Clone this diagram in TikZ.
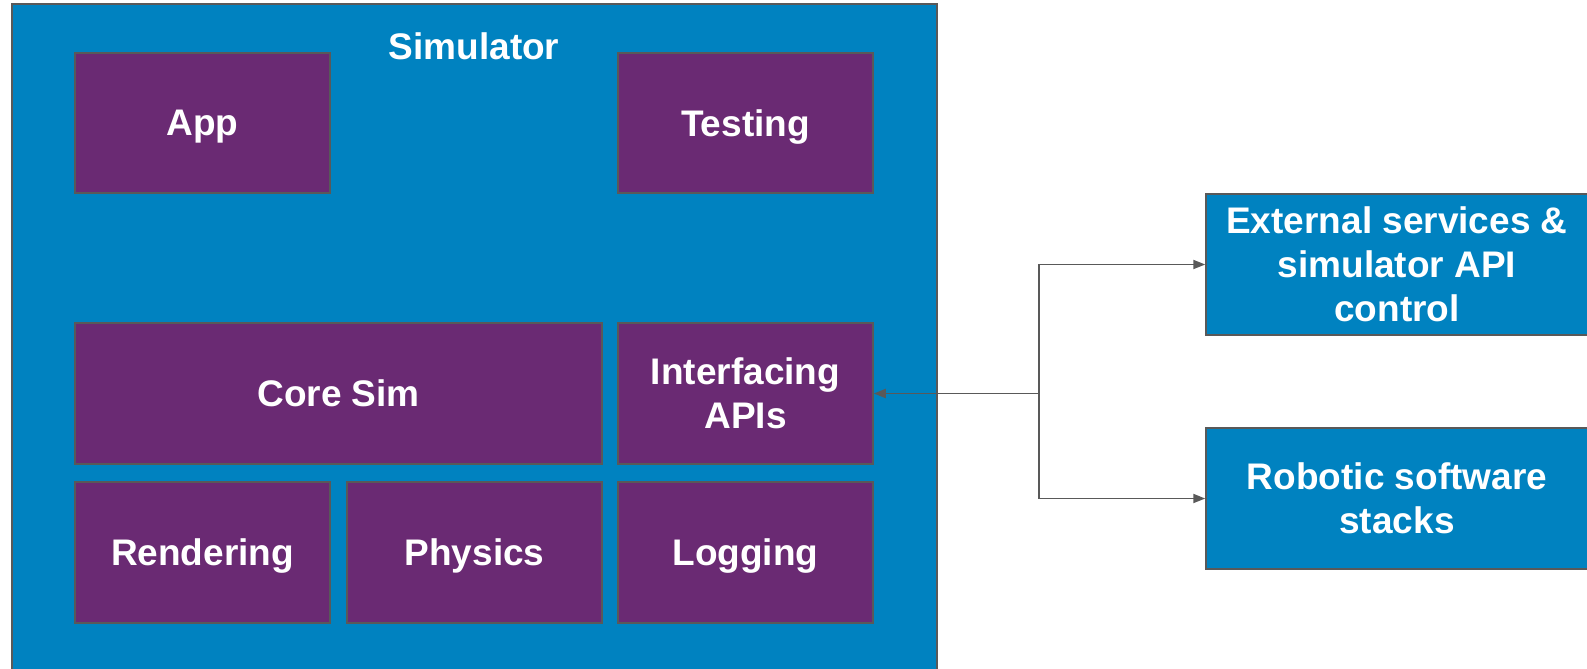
\documentclass[tikz,border=0pt]{standalone}
\usepackage{fontspec}
\setmainfont{Liberation Sans}
\usetikzlibrary{arrows.meta}
\definecolor{simblue}{HTML}{0082C0}
\definecolor{modpurple}{HTML}{6A2A73}
\definecolor{edgegray}{HTML}{595959}
\begin{document}
\begin{tikzpicture}[x=1pt,y=-1pt,
  box/.style={draw=edgegray, line width=1.5pt, rectangle, inner sep=0pt,
    text=white, font=\fontsize{37}{44}\selectfont\bfseries, align=center,
    text depth=0pt},
  module/.style={box, fill=modpurple, minimum width=255pt, minimum height=140pt},
  service/.style={box, fill=simblue, minimum width=382pt, minimum height=141pt},
  link/.style={draw=edgegray, line width=1.8pt, -{Triangle[length=12pt,width=9pt]}}]
\useasboundingbox (0,0) rectangle (1587,669);
\clip (0,0) rectangle (1587,669);

% simulator container
\node[box, fill=simblue, minimum width=925pt, minimum height=686pt] (sim) at (474.5,347) {};
\node[text=white, font=\fontsize{37}{44}\selectfont\bfseries] (simtitle) at (474,46) {Simulator};

% simulator modules
\node[module] (app) at (202.5,123) {App};
\node[module] (testing) at (745.5,123) {Testing};
\node[module, minimum width=527pt, minimum height=141pt] (core) at (338.5,393.5) {Core Sim};
\node[module, minimum height=141pt] (iface) at (745.5,393.5) {Interfacing\\APIs};
\node[module, minimum height=141pt] (render) at (202.5,552.5) {Rendering};
\node[module, minimum height=141pt] (physics) at (474.5,552.5) {Physics};
\node[module, minimum height=141pt] (logging) at (745.5,552.5) {Logging};

% external parties
\node[service] (ext) at (1397,264.5) {External services \&\\simulator API\\control};
\node[service] (robot) at (1397,498.5) {Robotic software\\stacks};

% connectors
\coordinate (j) at (1039,393.5);
\draw[link] (j) -- (iface.east);
\draw[link] (j) |- (ext.west);
\draw[link] (j) |- (robot.west);
\end{tikzpicture}
\end{document}
